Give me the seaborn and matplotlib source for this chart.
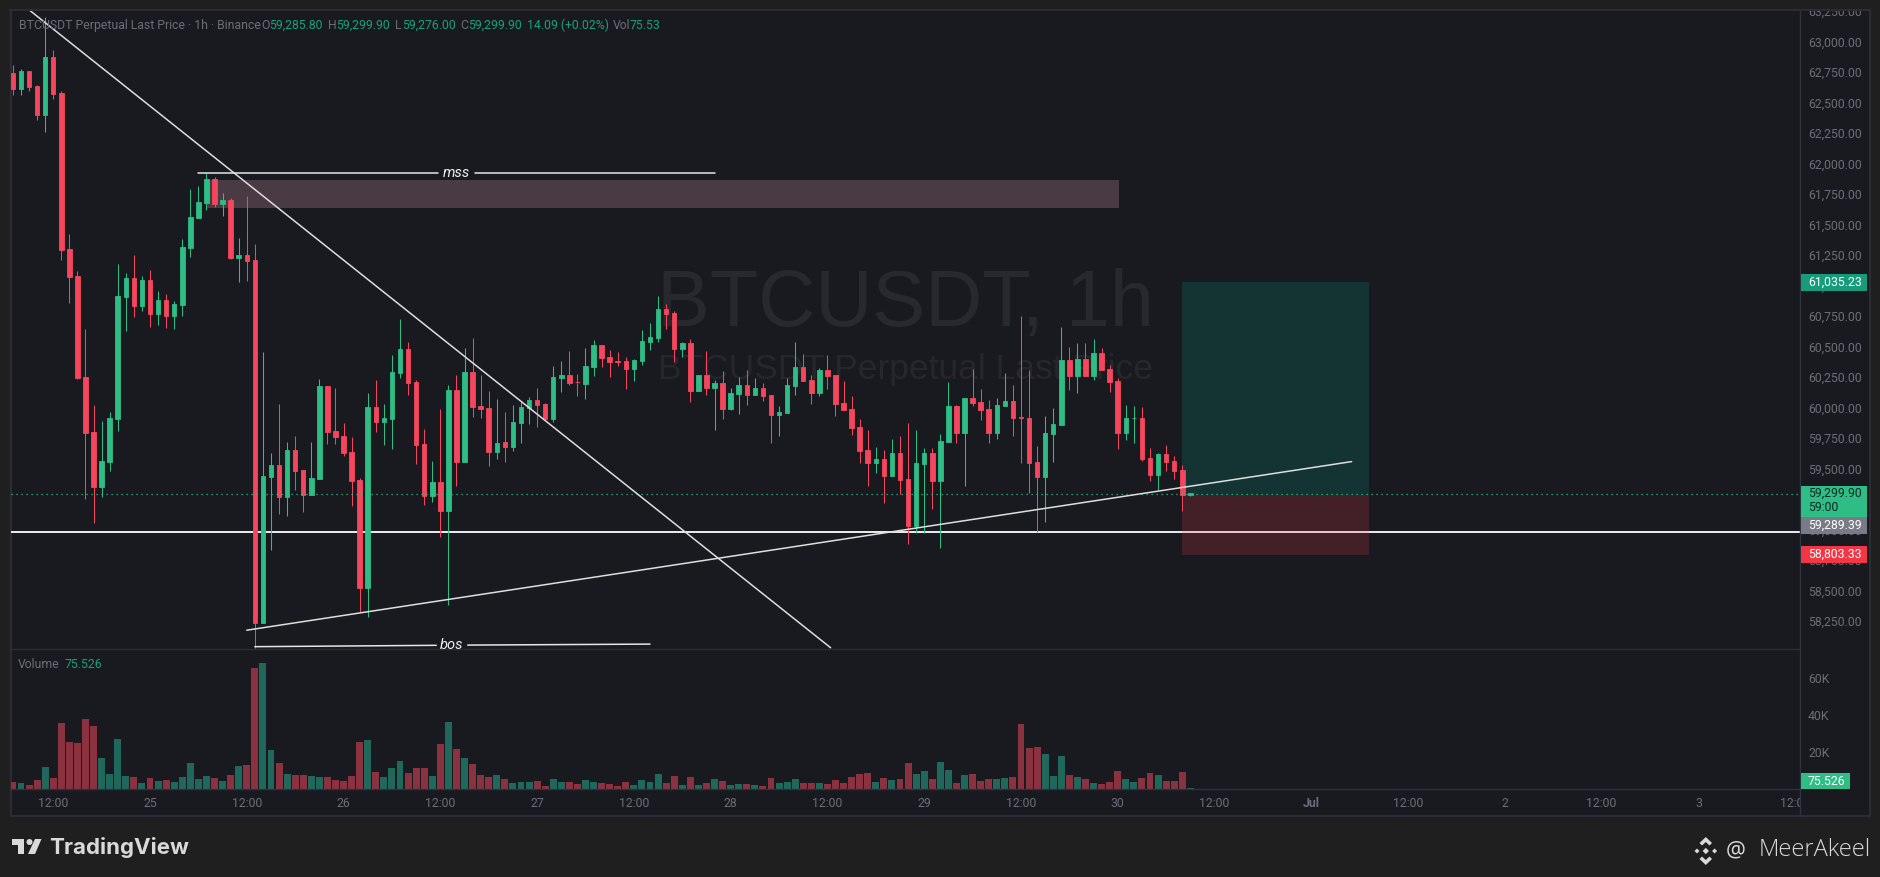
#!/usr/bin/env python3
import pandas as pd
import matplotlib.pyplot as plt
import seaborn as sns
from matplotlib.patches import Rectangle, Polygon, Circle
from matplotlib.transforms import Affine2D, blended_transform_factory

W, H = 1880, 877
BG_OUT = '#1f1f1f'
BG = '#181a20'
BORDER = '#2b2d33'
AXIS = '#2b3240'
GREY = '#6b6e78'
UP = '#2ebd85'
DOWN = '#f6465d'
UP_VOL = '#20685c'
DOWN_VOL = '#8b3240'
TEXT_UP = '#17a27f'

# hourly candles, 24 June 07:00 onwards
opens = [62740, 62610, 62760, 62635, 62395, 62875, 62575, 61300, 61075, 60250, 59800, 59350, 59555, 59905, 60905,
         61060, 60830, 61045, 60765, 60880, 60750, 60840, 61310, 61555, 61675, 61875, 61670, 61700, 61225, 61250,
         61205, 58235, 59430, 59530, 59265, 59650, 59490, 59285, 59415, 60175, 59805, 59765, 59635, 59405, 58520,
         60005, 59880, 59905, 60285, 60480, 60210, 59700, 59275, 59390, 59150, 60145, 59555, 60290, 60010, 59995,
         59635, 59715, 59675, 59875, 59995, 60060, 60030, 59905, 60240, 60265, 60210, 60195, 60330, 60510, 60415,
         60380, 60380, 60315, 60380, 60535, 60570, 60805, 60775, 60480, 60530, 60135, 60265, 60160, 60200, 59990,
         60110, 60185, 60100, 60160, 60100, 59940, 59955, 60175, 60330, 60225, 60120, 60305, 60265, 60035, 59985,
         59840, 59650, 59545, 59580, 59440, 59625, 59415, 59030, 59535, 59625, 59400, 59715, 60010, 59790, 60080,
         60045, 59990, 59790, 60010, 60055, 59920, 59915, 59555, 59430, 59785, 59855, 60390, 60260, 60395, 60260,
         60445, 60315, 60215, 59790, 59910, 59915, 59585, 59445, 59620, 59560, 59485, 59285.8]
highs = [62805, 62775, 62760, 62645, 63200, 62930, 62595, 61420, 61120, 60645, 60020, 59890, 59965, 61175, 61100,
         61250, 61080, 61125, 60955, 60930, 60875, 61380, 61790, 61815, 61920, 61890, 61760, 61715, 61390, 61735,
         61340, 60455, 59625, 60030, 59715, 59765, 59490, 59715, 60235, 60175, 60160, 59875, 59760, 59420, 60120,
         60225, 60030, 60430, 60725, 60535, 60225, 59825, 59560, 59990, 60185, 60265, 60490, 60570, 60265, 60135,
         60070, 59965, 60020, 60045, 60085, 60160, 60035, 60340, 60380, 60465, 60275, 60490, 60555, 60510, 60470,
         60455, 60415, 60395, 60635, 60690, 60915, 60850, 60790, 60535, 60565, 60270, 60465, 60225, 60300, 60160,
         60250, 60305, 60240, 60200, 60100, 60010, 60240, 60535, 60440, 60265, 60325, 60430, 60265, 60215, 60095,
         59905, 59815, 59675, 59650, 59740, 59765, 59875, 59815, 59670, 59670, 59785, 60210, 60020, 60080, 60315,
         60150, 60060, 60080, 60285, 60185, 60750, 60305, 59685, 59930, 59995, 60660, 60495, 60530, 60530, 60560,
         60490, 60350, 60240, 60020, 60010, 60005, 59670, 59625, 59695, 59600, 59530, 59299.9]
lows = [62560, 62560, 62595, 62355, 62260, 62530, 61210, 60855, 60235, 59250, 59055, 59265, 59480, 59805, 60625,
        60740, 60790, 60660, 60675, 60650, 60645, 60750, 61235, 61555, 61620, 61645, 61570, 61215, 61030, 61035,
        58030, 58235, 58830, 59125, 59110, 59325, 59145, 59285, 59415, 59700, 59700, 59600, 59195, 58325, 58285,
        59800, 59695, 59660, 60240, 60100, 59535, 59200, 59225, 58940, 58380, 59355, 59555, 59920, 59915, 59520,
        59580, 59555, 59645, 59710, 59865, 59840, 59905, 59880, 60125, 60185, 60095, 60070, 60260, 60330, 60250,
        60340, 60150, 60215, 60350, 60470, 60535, 60645, 60375, 60415, 60045, 60135, 60100, 59815, 59905, 59980,
        59945, 60020, 60100, 60055, 59710, 59765, 59955, 60100, 60215, 60030, 60095, 60150, 59930, 59980, 59775,
        59545, 59355, 59465, 59215, 59440, 59290, 58880, 58970, 58970, 59170, 58850, 59715, 59710, 59355, 60010,
        59900, 59710, 59740, 60010, 59765, 59545, 59300, 58980, 59060, 59555, 59855, 60145, 60120, 60260, 60225,
        60305, 60125, 59660, 59735, 59710, 59560, 59400, 59325, 59480, 59415, 59150, 59276.0]
closes = [62610, 62760, 62625, 62395, 62875, 62570, 61290, 61070, 60240, 59790, 59350, 59560, 59915, 60915, 61060,
          60830, 61045, 60765, 60880, 60750, 60850, 61315, 61560, 61685, 61875, 61670, 61700, 61225, 61250, 61200,
          58235, 59440, 59530, 59265, 59650, 59480, 59285, 59420, 60175, 59800, 59760, 59625, 59395, 58520, 60005,
          59880, 59915, 60290, 60480, 60200, 59695, 59275, 59390, 59150, 60145, 59555, 60290, 60005, 59990, 59635,
          59710, 59675, 59880, 60005, 60060, 60020, 59905, 60250, 60265, 60200, 60205, 60340, 60510, 60405, 60375,
          60375, 60315, 60390, 60545, 60580, 60805, 60765, 60480, 60525, 60135, 60265, 60160, 60200, 59990, 60120,
          60185, 60100, 60160, 60095, 59940, 59965, 60185, 60330, 60215, 60120, 60305, 60260, 60030, 59980, 59830,
          59645, 59545, 59580, 59440, 59625, 59405, 59030, 59545, 59625, 59400, 59725, 60010, 59790, 60080, 60035,
          59980, 59790, 60020, 60055, 59915, 59915, 59545, 59430, 59790, 59865, 60390, 60260, 60395, 60260, 60445,
          60305, 60210, 59790, 59915, 59915, 59580, 59445, 59620, 59555, 59480, 59285, 59299.9]
volumes = [3780, 3240, 2160, 4860, 11880, 5940, 35640, 25380, 24840, 37800, 34020, 16740, 8100, 27000, 7020,
           6480, 3240, 5940, 4320, 4860, 3780, 6480, 14040, 5400, 7020, 5940, 4320, 7560, 12420, 12960,
           65340, 68040, 21060, 14040, 8100, 7560, 7560, 7020, 6480, 6480, 4860, 4320, 7020, 25380, 26460,
           9180, 6480, 11340, 15120, 8640, 11340, 11340, 7020, 24300, 36180, 21600, 16740, 13500, 7560, 6480,
           7560, 5400, 3240, 3780, 3780, 4320, 1620, 5400, 3780, 3780, 2700, 4860, 3780, 3240, 2700,
           1620, 3780, 2160, 4860, 3780, 8100, 3240, 7020, 2160, 6480, 2160, 3240, 5400, 4320, 2160,
           2700, 2700, 2160, 1620, 5940, 3240, 3780, 5400, 3240, 3240, 3240, 2700, 4860, 3240, 6480,
           8100, 8640, 3780, 5940, 4860, 5400, 14040, 8100, 9720, 5400, 14580, 10260, 3240, 7560, 8100,
           4320, 5400, 5400, 5940, 6480, 35100, 22140, 22680, 18900, 7020, 17820, 7560, 6480, 5400, 3240,
           2700, 3780, 9720, 5400, 3780, 5940, 8640, 7560, 4320, 4320, 9180, 540]

price_ticks = [58250 + 250 * n for n in range(21)]
volume_ticks = [20000, 40000, 60000]
volume_tick_labels = ['20K', '40K', '60K']
time_ticks = [5, 17, 29, 41, 53, 65, 77, 89, 101, 113, 125, 137, 149, 161, 173, 185, 197, 209, 221]
time_labels = ['12:00', '25', '12:00', '26', '12:00', '27', '12:00', '28', '12:00', '29', '12:00', '30', '12:00',
               'Jul', '12:00', '2', '12:00', '3', '12:00']

last_line = 59288
support_line = 58977
box_span = [145, 168.1]
box_top, box_entry, box_stop = 61028, 59282, 58793
zone_span = [24, 137.2]
zone_prices = [61635, 61865]
falling_x, falling_y = [2.03, 101.4], [63258, 58030]
rising_x, rising_y = [29.0, 166.0], [58174, 59556]
mss_x = [[23, 52.7], [57.3, 87]]
mss_y = 61918
bos_x = [[30, 52.5], [56.4, 79]]
bos_y = [[58039, 58050], [58052, 58060]]

df = pd.DataFrame({'idx': range(len(opens)), 'open': opens, 'high': highs, 'low': lows,
                   'close': closes, 'volume': volumes})
df['up'] = df['close'] >= df['open']
df['direction'] = df['up'].map({True: 'up', False: 'down'})
df['body'] = (df['close'] - df['open']).abs()
df['body_low'] = df[['open', 'close']].min(axis=1)

sns.set_theme(style='dark', rc={'figure.facecolor': BG_OUT, 'axes.facecolor': BG, 'axes.edgecolor': BORDER})
plt.rcParams['font.family'] = ['Roboto', 'DejaVu Sans']
FS = 8.8


def pane(x0, y0, x1, y1, **kw):
    return fig.add_axes([x0 / W, 1 - y1 / H, (x1 - x0) / W, (y1 - y0) / H], **kw)


fig = plt.figure(figsize=(W / 100, H / 100), dpi=100)
px = Affine2D().scale(1, -1).translate(0, H)

frame = pane(10.5, 10, 1870, 816, zorder=-1)
frame.set_xticks([])
frame.set_yticks([])
for s in frame.spines.values():
    s.set_color(BORDER)
    s.set_linewidth(1.5)

ax = pane(10.5, 10, 1800, 648.5, zorder=1)
ax_vol = pane(10.5, 648.5, 1800, 789, zorder=1)
xlim = (-0.3, 221.6)

# watermarks sit under everything
ax.text(905, 306, 'BTCUSDT, 1h', transform=px, ha='center', va='center', fontsize=57, color='#27292f',
        family='Liberation Sans', zorder=0)
ax.text(905, 370, 'BTCUSDT Perpetual Last Price', transform=px, ha='center', va='center', fontsize=25.5,
        color='#25272d', family='Liberation Sans', zorder=0)

ax.axhline(support_line, color='white', lw=1.3, zorder=1)
ax.add_patch(Rectangle((zone_span[0], zone_prices[0]), zone_span[1] - zone_span[0], zone_prices[1] - zone_prices[0],
                       facecolor='#4a3a43', edgecolor='none', zorder=1))
ax.add_patch(Rectangle((box_span[0], box_entry), box_span[1] - box_span[0], box_top - box_entry,
                       facecolor='#089981', alpha=0.2, edgecolor='none', zorder=2))
ax.add_patch(Rectangle((box_span[0], box_stop), box_span[1] - box_span[0], box_entry - box_stop,
                       facecolor='#f23645', alpha=0.2, edgecolor='none', zorder=2))

# candles
for flag, color in ((True, UP), (False, DOWN)):
    sub = df[df['up'] == flag]
    ax.vlines(sub['idx'], sub['low'], sub['high'], colors=color, lw=0.75, zorder=3)
    sns.barplot(data=sub, x='idx', y='body', native_scale=True, bottom=sub['body_low'].values, color=color,
                width=0.56, saturation=1, errorbar=None, edgecolor=color, linewidth=0.6, ax=ax, zorder=3)

ax.axhline(last_line, color=UP, lw=0.9, ls=(0, (1, 3)), zorder=4)
ax.plot(falling_x, falling_y, color='#dedede', lw=1.1, zorder=5)
ax.plot(rising_x, rising_y, color='#dedede', lw=1.1, zorder=5)
for seg in mss_x:
    ax.plot(seg, [mss_y, mss_y], color='#e6e6e6', lw=1.1, zorder=5)
for seg, ys in zip(bos_x, bos_y):
    ax.plot(seg, ys, color='#e6e6e6', lw=1.1, zorder=5)
ax.text(55, mss_y, 'mss', style='italic', color='#f0f0f0', fontsize=10.5, ha='center', va='center', zorder=5)
ax.text(54.45, 58050, 'bos', style='italic', color='#f0f0f0', fontsize=10.5, ha='center', va='center', zorder=5,
        clip_on=True)

ax.set_xlim(xlim)
ax.set_ylim(58024, 63258)
ax.set_xlabel('')
ax.set_ylabel('')
ax.set_xticks([])
ax.yaxis.tick_right()
ax.set_yticks(price_ticks)
ax.set_yticklabels([f'{p:,.2f}' for p in price_ticks], fontsize=FS, color=GREY, ha='left')
ax.tick_params(axis='y', length=0, pad=5.8)
ax.patch.set_alpha(0)
for side, s in ax.spines.items():
    s.set_visible(side in ('right', 'bottom'))
    s.set_color(AXIS if side == 'right' else BORDER)
    s.set_linewidth(1)

# volume pane
sns.barplot(data=df, x='idx', y='volume', hue='direction', hue_order=['up', 'down'],
            palette={'up': UP_VOL, 'down': DOWN_VOL}, native_scale=True, dodge=False, legend=False,
            width=0.86, saturation=1, errorbar=None, linewidth=0, ax=ax_vol)
ax_vol.set_xlim(xlim)
ax_vol.set_ylim(0, 75950)
ax_vol.set_xlabel('')
ax_vol.set_ylabel('')
ax_vol.set_xticks(time_ticks)
ax_vol.set_xticklabels(time_labels, fontsize=FS, color=GREY)
ax_vol.tick_params(axis='x', length=0, pad=5.5)
for lbl in ax_vol.get_xticklabels():
    if lbl.get_text() == 'Jul':
        lbl.set_fontweight('bold')
ax_vol.yaxis.tick_right()
ax_vol.set_yticks(volume_ticks)
ax_vol.set_yticklabels(volume_tick_labels, fontsize=FS, color=GREY, ha='left')
ax_vol.tick_params(axis='y', length=0, pad=5.8)
ax_vol.patch.set_alpha(0)
for side, s in ax_vol.spines.items():
    s.set_visible(side in ('right', 'bottom'))
    s.set_color(AXIS)
    s.set_linewidth(1)


def tag(target, low, high, width, color, rows):
    tr = blended_transform_factory(target.transAxes, target.transData)
    target.add_patch(Rectangle((1.0005, low), width, high - low, transform=tr, facecolor=color, edgecolor='none',
                               clip_on=False, zorder=8))
    for y, text, text_color in rows:
        target.text(1.00447, y, text, transform=tr, fontsize=FS, color=text_color, ha='left', va='center',
                    clip_on=False, zorder=9)


tag(ax, 60955, 61094, 0.0369, '#169c7b', [(61025, '61,035.23', 'white')])
tag(ax, 59102, 59356, 0.0369, UP, [(59293, '59,299.90', '#0f2a26'), (59178, '59:00', '#0f2a26')])
tag(ax, 58963, 59102, 0.0369, '#787b86', [(59033, '59,289.39', 'white')])
tag(ax, 58726, 58865, 0.0369, '#f23645', [(58795, '58,803.33', 'white')])
tag(ax_vol, 0, 8650, 0.0274, UP, [(4300, '75.526', 'white')])

# covers the clipped labels at the pane edges
fig.add_artist(Rectangle((0, 0), W, 9, transform=px, facecolor=BG_OUT, edgecolor='none', zorder=3))
fig.add_artist(Rectangle((1801, 790), 68, 25, transform=px, facecolor=BG, edgecolor='none', zorder=3))
fig.add_artist(plt.Line2D([1800, 1800], [789, 816], transform=px, color=AXIS, lw=1, zorder=4))
fig.add_artist(plt.Line2D([10, 1870], [9.5, 9.5], transform=px, color=BORDER, lw=1.5, zorder=4))

# legend rows
legend_runs = [(18.7, 'BTCUSDT Perpetual Last Price · 1h · Binance', GREY), (261, 'O', GREY), (269.6, '59,285.80', TEXT_UP),
               (328, 'H', GREY), (336, '59,299.90', TEXT_UP), (395, 'L', GREY), (402, '59,276.00', TEXT_UP),
               (460, 'C', GREY), (468, '59,299.90', TEXT_UP), (527, '14.09 (+0.02%)', TEXT_UP),
               (613, 'Vol', GREY), (630, '75.53', TEXT_UP), (18.2, 'Volume', GREY), (64.5, '75.526', TEXT_UP)]
for i, (x, text, color) in enumerate(legend_runs):
    fig.text(x, 665 if i >= 12 else 25.7, text, transform=px, fontsize=FS, color=color, ha='left', va='center',
             zorder=6)

# footer marks
LOGO = '#d9d9d9'
fig.add_artist(Polygon([(12, 839), (24, 839), (24, 854), (18, 854), (18, 845), (12, 845)], transform=px,
                       facecolor=LOGO, edgecolor='none'))
fig.add_artist(Circle((29.5, 842), 3, transform=px, facecolor=LOGO, edgecolor='none'))
fig.add_artist(Polygon([(35, 839), (41.5, 839), (35, 854), (28, 854)], transform=px, facecolor=LOGO,
                       edgecolor='none'))
fig.text(49, 847, 'TradingView', transform=px, fontsize=16, fontweight='bold', color=LOGO, ha='left', va='center',
         family='Inter')

diamonds = [(1705.8, 851, 3.2), (1697, 851, 2.5), (1714.6, 851, 2.5)]
for cx, cy, r in diamonds:
    fig.add_artist(Polygon([(cx, cy - r), (cx + r, cy), (cx, cy + r), (cx - r, cy)], transform=px, facecolor=LOGO,
                           edgecolor='none'))
fig.add_artist(Polygon([(1705.8, 837), (1712, 843), (1709.5, 845.5), (1705.8, 842), (1702, 845.5), (1699.5, 843)],
                       transform=px, facecolor=LOGO, edgecolor='none'))
fig.add_artist(Polygon([(1705.8, 865), (1712, 859), (1709.5, 856.5), (1705.8, 860), (1702, 856.5), (1699.5, 859)],
                       transform=px, facecolor=LOGO, edgecolor='none'))
fig.text(1725.7, 850.5, '@', transform=px, fontsize=16, color=LOGO, ha='left', va='center', family='Open Sans')
fig.text(1870.5, 850.5, 'MeerAkeel', transform=px, fontsize=17, color=LOGO, ha='right', va='center', family='Open Sans',
         fontweight='light')

fig.savefig('out.png', dpi=100, facecolor=BG_OUT)
